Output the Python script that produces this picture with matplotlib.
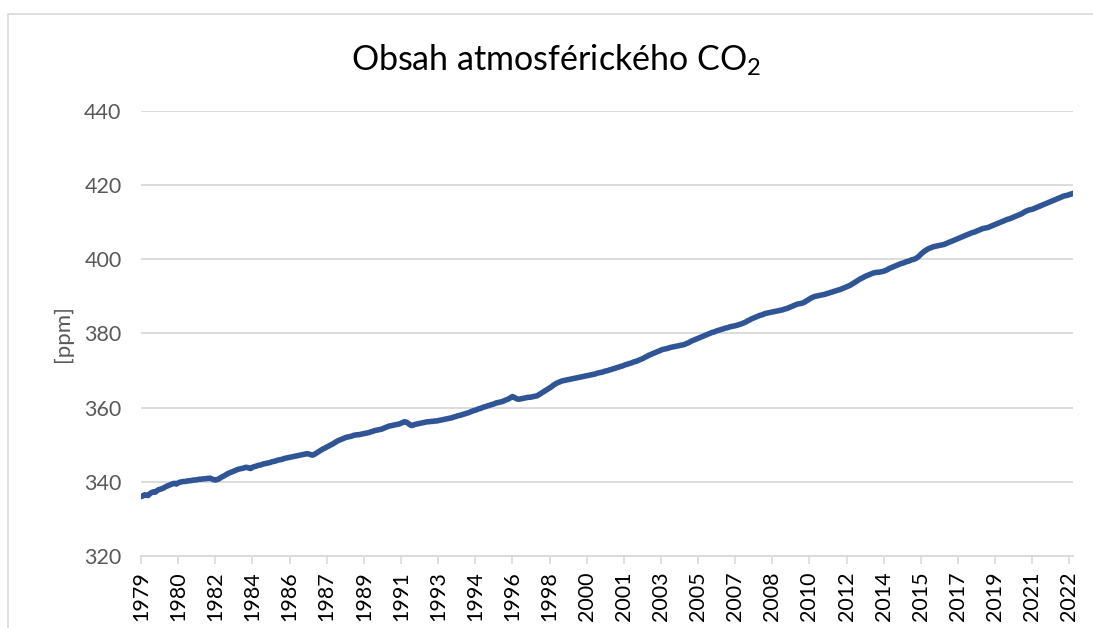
import matplotlib
matplotlib.use("Agg")
import matplotlib.pyplot as plt
from matplotlib.patches import Rectangle

plt.rcParams["font.family"] = ["Lato", "DejaVu Sans"]
plt.rcParams["mathtext.fontset"] = "custom"
plt.rcParams["mathtext.rm"] = "Lato"
plt.rcParams["mathtext.it"] = "Lato"

# monthly CO2 [ppm], Jan 1979 - Dec 2022
co2_1979_1989 = [
    336.0, 336.2, 336.5, 336.4, 336.3, 336.8, 337.1, 337.3, 337.2, 337.6, 337.9, 338.0,
    338.2, 338.4, 338.7, 338.9, 339.1, 339.3, 339.5, 339.6, 339.4, 339.7, 339.9, 340.0,
    340.1, 340.1, 340.2, 340.3, 340.3, 340.4, 340.5, 340.5, 340.6, 340.7, 340.7, 340.8,
    340.8, 340.9, 340.9, 341.0, 340.8, 340.6, 340.5, 340.6, 340.8, 341.1, 341.4, 341.6,
    341.9, 342.2, 342.4, 342.6, 342.8, 343.0, 343.2, 343.4, 343.5, 343.6, 343.7, 343.9,
    343.9, 343.7, 343.6, 343.9, 344.1, 344.2, 344.4, 344.5, 344.6, 344.8, 344.9, 345.0,
    345.1, 345.2, 345.4, 345.5, 345.6, 345.8, 345.9, 346.0, 346.1, 346.3, 346.4, 346.5,
    346.6, 346.7, 346.8, 346.9, 347.0, 347.1, 347.2, 347.3, 347.4, 347.5, 347.6, 347.5,
    347.3, 347.2, 347.4, 347.7, 348.0, 348.3, 348.6, 348.9, 349.1, 349.4, 349.6, 349.9,
    350.1, 350.4, 350.7, 351.0, 351.2, 351.4, 351.6, 351.8, 352.0, 352.1, 352.2, 352.3,
    352.5, 352.6, 352.7, 352.7, 352.8, 352.9, 353.0, 353.1, 353.2, 353.3, 353.5, 353.6,
]
co2_1990_2000 = [
    353.8, 353.9, 354.0, 354.1, 354.2, 354.4, 354.6, 354.8, 355.0, 355.1, 355.2, 355.3,
    355.4, 355.5, 355.6, 355.8, 356.0, 356.2, 356.1, 355.8, 355.4, 355.2, 355.3, 355.5,
    355.6, 355.7, 355.8, 355.9, 356.0, 356.1, 356.2, 356.2, 356.3, 356.3, 356.4, 356.4,
    356.5, 356.6, 356.7, 356.8, 356.9, 357.0, 357.1, 357.2, 357.3, 357.5, 357.6, 357.8,
    357.9, 358.0, 358.2, 358.3, 358.5, 358.6, 358.8, 359.0, 359.2, 359.3, 359.5, 359.7,
    359.8, 360.0, 360.2, 360.3, 360.5, 360.6, 360.8, 360.9, 361.1, 361.3, 361.4, 361.5,
    361.6, 361.8, 362.0, 362.2, 362.4, 362.7, 363.0, 362.8, 362.5, 362.3, 362.3, 362.4,
    362.5, 362.6, 362.7, 362.8, 362.8, 362.9, 363.0, 363.1, 363.2, 363.5, 363.8, 364.1,
    364.4, 364.7, 365.0, 365.3, 365.6, 366.0, 366.3, 366.6, 366.8, 367.0, 367.2, 367.3,
    367.4, 367.5, 367.6, 367.7, 367.8, 367.9, 368.0, 368.1, 368.2, 368.3, 368.4, 368.5,
    368.6, 368.7, 368.8, 368.9, 369.0, 369.1, 369.3, 369.4, 369.5, 369.6, 369.8, 369.9,
]
co2_2001_2011 = [
    370.0, 370.2, 370.3, 370.5, 370.6, 370.8, 370.9, 371.1, 371.2, 371.4, 371.6, 371.7,
    371.9, 372.0, 372.2, 372.4, 372.5, 372.7, 372.9, 373.1, 373.3, 373.6, 373.8, 374.1,
    374.3, 374.5, 374.7, 374.9, 375.1, 375.3, 375.5, 375.7, 375.8, 375.9, 376.0, 376.2,
    376.3, 376.4, 376.5, 376.6, 376.7, 376.8, 376.9, 377.0, 377.2, 377.4, 377.6, 377.9,
    378.1, 378.3, 378.5, 378.7, 378.9, 379.1, 379.3, 379.5, 379.7, 379.9, 380.1, 380.3,
    380.4, 380.6, 380.8, 380.9, 381.1, 381.2, 381.4, 381.5, 381.6, 381.8, 381.9, 382.0,
    382.1, 382.2, 382.4, 382.5, 382.7, 382.9, 383.1, 383.4, 383.6, 383.9, 384.1, 384.3,
    384.5, 384.7, 384.9, 385.0, 385.2, 385.4, 385.5, 385.6, 385.7, 385.8, 385.9, 386.0,
    386.1, 386.2, 386.3, 386.4, 386.6, 386.7, 386.9, 387.1, 387.3, 387.5, 387.7, 387.9,
    388.0, 388.1, 388.2, 388.4, 388.7, 389.0, 389.3, 389.6, 389.8, 390.0, 390.1, 390.2,
    390.3, 390.4, 390.5, 390.6, 390.8, 390.9, 391.1, 391.2, 391.4, 391.5, 391.7, 391.8,
]
co2_2012_2022 = [
    392.0, 392.2, 392.4, 392.6, 392.8, 393.0, 393.3, 393.6, 393.9, 394.2, 394.5, 394.8,
    395.0, 395.3, 395.5, 395.7, 395.9, 396.1, 396.3, 396.4, 396.5, 396.5, 396.6, 396.7,
    396.8, 397.0, 397.2, 397.5, 397.7, 397.9, 398.1, 398.3, 398.5, 398.7, 398.9, 399.0,
    399.2, 399.4, 399.5, 399.7, 399.9, 400.0, 400.2, 400.5, 400.9, 401.4, 401.8, 402.2,
    402.5, 402.8, 403.0, 403.2, 403.4, 403.5, 403.6, 403.7, 403.8, 403.9, 404.0, 404.2,
    404.4, 404.6, 404.8, 405.0, 405.2, 405.4, 405.6, 405.8, 406.0, 406.2, 406.4, 406.6,
    406.8, 407.0, 407.2, 407.3, 407.5, 407.7, 407.9, 408.1, 408.3, 408.4, 408.5, 408.6,
    408.8, 409.0, 409.2, 409.4, 409.6, 409.8, 410.0, 410.2, 410.4, 410.6, 410.8, 410.9,
    411.1, 411.3, 411.5, 411.7, 411.9, 412.1, 412.3, 412.6, 412.9, 413.1, 413.3, 413.4,
    413.5, 413.7, 413.9, 414.1, 414.3, 414.5, 414.7, 414.9, 415.1, 415.3, 415.5, 415.7,
    415.9, 416.1, 416.3, 416.5, 416.7, 416.9, 417.1, 417.2, 417.3, 417.5, 417.6, 417.8,
]
co2 = co2_1979_1989 + co2_1990_2000 + co2_2001_2011 + co2_2012_2022

years = list(range(1979, 2023))
months = [(y, m) for y in years for m in range(1, 13)]

# Excel category axis shows a label every 21 months
label_step = 21
tick_pos = list(range(0, len(months), label_step))
tick_labels = [str(months[i][0]) for i in tick_pos]

y_ticks = [320, 340, 360, 380, 400, 420, 440]

fig = plt.figure(figsize=(10.93, 6.28), dpi=100)
fig.patches.append(Rectangle((8 / 1093, -0.1), 1.2, 1.1 - 14 / 628,
                             transform=fig.transFigure, fill=False,
                             edgecolor="#d9d9d9", linewidth=1.2))

ax = fig.add_axes([141 / 1093, 1 - 556 / 628, (1073 - 141) / 1093, (556 - 111) / 628])

ax.plot(range(len(co2)), co2, color="#2f5597", linewidth=4.0,
        solid_joinstyle="round", solid_capstyle="round", zorder=3)

ax.set_xlim(0, len(co2) - 1)
ax.set_ylim(320, 440)
ax.set_yticks(y_ticks)
ax.set_xticks(tick_pos)
ax.set_xticklabels(tick_labels, rotation=90, fontsize=15.5, color="#000000")
ax.tick_params(axis="y", length=0, pad=14, labelsize=15.5, labelcolor="#595959")
ax.tick_params(axis="x", length=6, width=1.2, color="#d9d9d9", pad=5)

ax.grid(axis="y", color="#d9d9d9", linewidth=1.3)
ax.set_axisbelow(True)
for s in ["top", "right", "left"]:
    ax.spines[s].set_visible(False)
ax.spines["bottom"].set_color("#d9d9d9")
ax.spines["bottom"].set_linewidth(1.3)

ax.set_ylabel("[ppm]", fontsize=16, color="#595959", labelpad=8)
fig.text(556 / 1093, 1 - 60 / 628, "Obsah atmosférického CO$_2$",
         ha="center", va="center", fontsize=24.5, color="#000000")

plt.savefig("out.png", dpi=100)
plt.close()
